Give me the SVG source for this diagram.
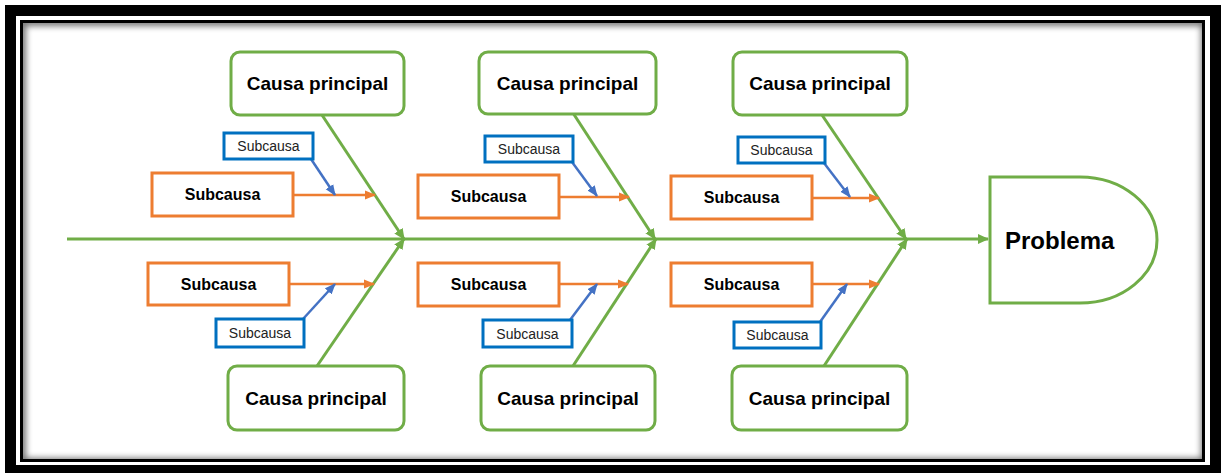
<svg xmlns="http://www.w3.org/2000/svg" width="1225" height="473" viewBox="0 0 1225 473">
<defs>
<style>
.cause{fill:#fff;stroke:#70AD47;stroke-width:3}
.sub{fill:#fff;stroke:#ED7D31;stroke-width:3}
.sub2{fill:#fff;stroke:#0070C0;stroke-width:3}
.g{stroke:#70AD47;stroke-width:3;fill:none}
.o{stroke:#ED7D31;stroke-width:2.5;fill:none}
.b{stroke:#4472C4;stroke-width:2.5;fill:none}
.tc{font-family:"Liberation Sans",Arial,sans-serif;font-weight:bold;font-size:19px;fill:#000;text-anchor:middle}
.ts{font-family:"Liberation Sans",Arial,sans-serif;font-weight:bold;font-size:16px;fill:#000;text-anchor:middle}
.tb{font-family:"Liberation Sans",Arial,sans-serif;font-size:14px;fill:#222;text-anchor:middle}
</style>
<marker id="ag" markerWidth="11" markerHeight="10" refX="10" refY="5" orient="auto" markerUnits="userSpaceOnUse"><path d="M0,0 L11,5 L0,10 Z" fill="#70AD47"/></marker>
<marker id="ao" markerWidth="11" markerHeight="10" refX="10" refY="5" orient="auto" markerUnits="userSpaceOnUse"><path d="M0,0.5 L11,5 L0,9.5 Z" fill="#ED7D31"/></marker>
<marker id="ab" markerWidth="11" markerHeight="10" refX="10" refY="5" orient="auto" markerUnits="userSpaceOnUse"><path d="M0,0.5 L11,5 L0,9.5 Z" fill="#4472C4"/></marker>
<clipPath id="inner"><rect x="23" y="23" width="1179" height="436"/></clipPath>
<filter id="blur" x="-5%" y="-5%" width="110%" height="110%"><feGaussianBlur stdDeviation="3"/></filter>
</defs>
<rect width="1225" height="473" fill="#fff"/>
<g id="frame">
<rect x="10.5" y="10.5" width="1205" height="460" fill="none" stroke="#000" stroke-width="11"/>
<rect x="21.5" y="21.5" width="1182" height="439" fill="none" stroke="#000" stroke-width="3"/>
<g clip-path="url(#inner)"><rect x="21" y="21" width="1183" height="440" fill="none" stroke="#000" stroke-width="8" opacity="0.55" filter="url(#blur)" transform="translate(1,1)"/></g>
</g>
<g id="connectors">
<line class="g" x1="67" y1="239" x2="988" y2="239" marker-end="url(#ag)"/>
<line class="g" x1="322" y1="115" x2="404" y2="239" marker-end="url(#ag)"/>
<line class="g" x1="317" y1="366" x2="404" y2="239" marker-end="url(#ag)"/>
<line class="g" x1="573" y1="113" x2="655" y2="239" marker-end="url(#ag)"/>
<line class="g" x1="573" y1="366" x2="656" y2="239" marker-end="url(#ag)"/>
<line class="g" x1="822" y1="115" x2="906" y2="239" marker-end="url(#ag)"/>
<line class="g" x1="824" y1="366" x2="907" y2="239" marker-end="url(#ag)"/>
<line class="o" x1="293" y1="195" x2="375" y2="195" marker-end="url(#ao)"/>
<line class="o" x1="289" y1="284" x2="374" y2="284" marker-end="url(#ao)"/>
<line class="o" x1="559" y1="197" x2="629" y2="197" marker-end="url(#ao)"/>
<line class="o" x1="559" y1="284" x2="628" y2="284" marker-end="url(#ao)"/>
<line class="o" x1="812" y1="198" x2="879" y2="198" marker-end="url(#ao)"/>
<line class="o" x1="812" y1="284" x2="879" y2="284" marker-end="url(#ao)"/>
<line class="b" x1="311" y1="159" x2="335" y2="195" marker-end="url(#ab)"/>
<line class="b" x1="303" y1="319" x2="335" y2="284" marker-end="url(#ab)"/>
<line class="b" x1="572" y1="162" x2="597" y2="196" marker-end="url(#ab)"/>
<line class="b" x1="570" y1="320" x2="597" y2="284" marker-end="url(#ab)"/>
<line class="b" x1="824" y1="163" x2="850" y2="197" marker-end="url(#ab)"/>
<line class="b" x1="820" y1="322" x2="847" y2="284" marker-end="url(#ab)"/>
</g>
<g id="problema">
<path d="M990,177 L1080,177 A77,63 0 0 1 1080,303 L990,303 Z" fill="#fff" stroke="#70AD47" stroke-width="3"/>
<text x="1005" y="249" font-family="'Liberation Sans',Arial,sans-serif" font-weight="bold" font-size="24" fill="#000">Problema</text>
</g>
<g id="causa-top-1"><rect class="cause" x="231" y="52" width="173" height="63" rx="9"/><text class="tc" x="317.5" y="90">Causa principal</text></g>
<g id="causa-top-2"><rect class="cause" x="479" y="52" width="177" height="62" rx="9"/><text class="tc" x="567.5" y="90">Causa principal</text></g>
<g id="causa-top-3"><rect class="cause" x="733" y="52" width="174" height="63" rx="9"/><text class="tc" x="820" y="90">Causa principal</text></g>
<g id="causa-bot-1"><rect class="cause" x="228" y="366" width="176" height="64" rx="9"/><text class="tc" x="316" y="405">Causa principal</text></g>
<g id="causa-bot-2"><rect class="cause" x="481" y="366" width="174" height="64" rx="9"/><text class="tc" x="568" y="405">Causa principal</text></g>
<g id="causa-bot-3"><rect class="cause" x="732" y="366" width="175" height="64" rx="9"/><text class="tc" x="819.5" y="405">Causa principal</text></g>
<g id="sub-top-1"><rect class="sub" x="152" y="173" width="141" height="43"/><text class="ts" x="222.5" y="200">Subcausa</text></g>
<g id="sub-bot-1"><rect class="sub" x="148" y="263" width="141" height="42"/><text class="ts" x="218.5" y="290">Subcausa</text></g>
<g id="sub-top-2"><rect class="sub" x="418" y="175" width="141" height="43"/><text class="ts" x="488.5" y="202">Subcausa</text></g>
<g id="sub-bot-2"><rect class="sub" x="418" y="263" width="141" height="43"/><text class="ts" x="488.5" y="290">Subcausa</text></g>
<g id="sub-top-3"><rect class="sub" x="671" y="176" width="141" height="43"/><text class="ts" x="741.5" y="203">Subcausa</text></g>
<g id="sub-bot-3"><rect class="sub" x="671" y="263" width="141" height="43"/><text class="ts" x="741.5" y="290">Subcausa</text></g>
<g id="subsub-top-1"><rect class="sub2" x="224" y="133" width="89" height="26"/><text class="tb" x="268.5" y="151">Subcausa</text></g>
<g id="subsub-bot-1"><rect class="sub2" x="216" y="319" width="88" height="28"/><text class="tb" x="260" y="338">Subcausa</text></g>
<g id="subsub-top-2"><rect class="sub2" x="485" y="136" width="88" height="26"/><text class="tb" x="529" y="154">Subcausa</text></g>
<g id="subsub-bot-2"><rect class="sub2" x="483" y="320" width="89" height="27"/><text class="tb" x="527.5" y="339">Subcausa</text></g>
<g id="subsub-top-3"><rect class="sub2" x="738" y="137" width="87" height="26"/><text class="tb" x="781.5" y="155">Subcausa</text></g>
<g id="subsub-bot-3"><rect class="sub2" x="734" y="322" width="87" height="26"/><text class="tb" x="777.5" y="340">Subcausa</text></g>
</svg>
